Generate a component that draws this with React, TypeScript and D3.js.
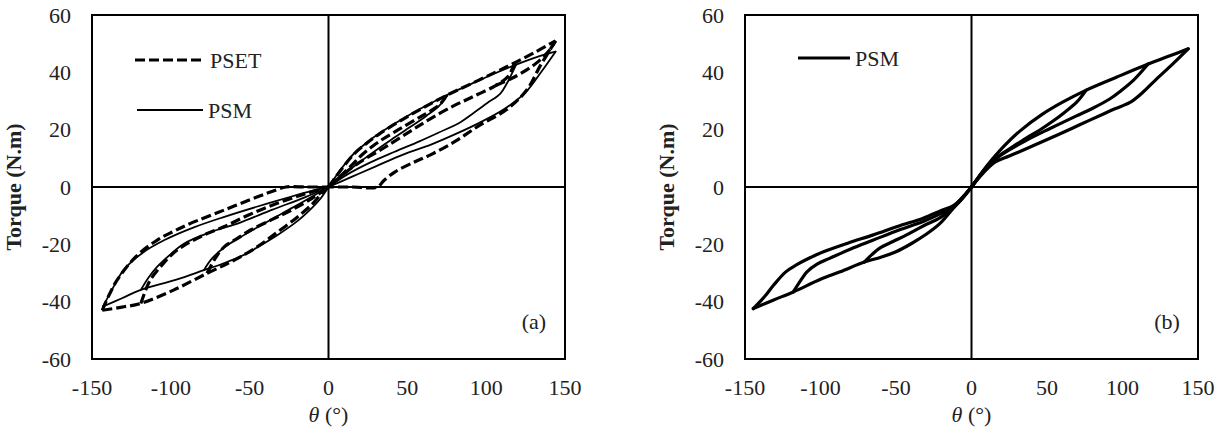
import * as d3 from 'd3';

type Pt = [number, number];

// x tick labels / y tick labels
const xTicks = [-150, -100, -50, 0, 50, 100, 150];
const yTicks = [-60, -40, -20, 0, 20, 40, 60];

// ---- panel (a) : PSET (dashed) ----
const psetPosEnvelope: Pt[] = [[0, 0], [8, 6], [16, 11.4], [25, 15.6], [33, 18.8], [47.7, 23.8], [60, 27.6], [75, 32], [90, 35.9], [105, 39.8], [118, 43.3], [132, 47.3], [144, 51]];
const psetPosReturnBig: Pt[] = [[144, 51], [139, 46.5], [134, 42], [126, 34], [113, 27], [96, 21.6], [80, 15.8], [65, 11.3], [54, 8.6], [42, 5.2], [35, 2.2], [31, 0], [15, 0], [0, 0]];
const psetPosReturnMid: Pt[] = [[118, 43.3], [114, 38.6], [106, 35.4], [92, 31.6], [79, 28.2], [64, 23.6], [52, 19.5], [35, 13.6], [18, 8], [8, 3.8], [0, 0]];
const psetPosReturnSmall: Pt[] = [[75, 32], [71, 29], [64, 26.3], [58, 24.4], [46, 20.5], [33, 16.2], [22, 11.6], [14, 7.2], [6, 3], [0, 0]];
const psetPosReload: Pt[] = [[106, 35.4], [115, 37.6], [122, 39.6], [132, 43.3], [140, 47.6], [144, 51]];
const psetNegEnvelope: Pt[] = [[0, 0], [-4, -2], [-10, -5.8], [-20, -10.6], [-33, -16], [-45, -20.8], [-60, -25.6], [-77, -30.1], [-98, -35.9], [-119, -40.6], [-131, -41.9], [-143.5, -43]];
const psetNegReturnBig: Pt[] = [[-143.5, -43], [-139, -37.5], [-134, -32.4], [-122, -24.2], [-108.6, -18.5], [-98, -15.4], [-87.5, -12.7], [-66, -8], [-45, -3.4], [-33, -1], [-27, 0], [-14, 0], [0, 0]];
const psetNegReturnMid: Pt[] = [[-119, -40.6], [-116, -36], [-113, -32.4], [-105, -26.8], [-96, -22], [-80, -17], [-66, -13.8], [-50, -9.6], [-32.5, -5.7], [-15, -2.4], [0, 0]];
const psetNegReturnSmall: Pt[] = [[-77, -30.1], [-72, -25], [-66, -20.8], [-58, -18], [-49.4, -15], [-36, -11.4], [-24, -8.2], [-10, -3.8], [0, 0]];

// ---- panel (a) : PSM (thin solid) ----
const psmAPosEnvelope: Pt[] = [[0, 0], [8, 6.3], [16, 11.6], [24.5, 15.6], [33, 19], [47.7, 24], [60, 27.8], [75.5, 32.2], [90, 35.8], [105, 39.5], [119, 42.7], [132, 45.3], [144, 47.2]];
const psmAPosReturnBig: Pt[] = [[144, 47.2], [135, 40.2], [125, 33], [111, 27], [95, 22.2], [81.5, 18.7], [65, 14.8], [47.7, 11.4], [30, 7.2], [15, 3.6], [0, 0]];
const psmAPosReturnMid: Pt[] = [[119, 42.7], [113, 36], [109, 32.6], [100.5, 29.2], [92, 25.8], [83.7, 22.6], [70, 19], [58, 16], [42, 12.3], [26.6, 8.6], [12, 4.4], [0, 0]];
const psmAPosReturnSmall: Pt[] = [[75.5, 32.2], [70, 28.2], [62, 24.8], [52, 21], [40, 16.6], [26, 11.2], [12, 5.4], [0, 0]];
const psmANegEnvelope: Pt[] = [[0, 0], [-5, -4], [-10, -7], [-20, -12], [-33, -17], [-45, -21], [-53, -23.5], [-66, -26.5], [-79, -29], [-97, -32.4], [-119, -35.9], [-131, -38.8], [-143, -41.7]];
const psmANegReturnBig: Pt[] = [[-143, -41.7], [-136, -34.5], [-130, -29], [-118, -23], [-104, -18.5], [-85, -14], [-66, -10.4], [-45, -6.8], [-24, -3.4], [-10, -1.3], [0, 0]];
const psmANegReturnMid: Pt[] = [[-119, -35.9], [-114, -31.5], [-108.6, -27.8], [-100, -23.4], [-91.7, -19.8], [-75, -15.8], [-56, -12.4], [-36, -8], [-15, -3.6], [0, 0]];
const psmANegReturnSmall: Pt[] = [[-79, -29], [-74, -25], [-66, -21], [-58, -18.2], [-50, -15.6], [-30, -9.4], [-15, -4.8], [0, 0]];

// ---- panel (b) : PSM ----
const psmBPosEnvelope: Pt[] = [[0, 0], [7, 5.2], [14, 9.8], [22, 14.5], [32, 19.5], [47, 25.4], [60, 29.5], [76, 33.8], [96, 38.3], [117, 42.9], [130, 45.5], [143.5, 48.2]];
const psmBPosReturnBig: Pt[] = [[143.5, 48.2], [133, 42.8], [122, 37.4], [113, 32.8], [105, 29.5], [95, 27.3], [87, 25.4], [72, 21.8], [58, 18.4], [40, 14.2], [25, 10.8], [16, 8.8], [8, 5], [0, 0]];
const psmBPosReturnMid: Pt[] = [[117, 42.9], [107, 37.1], [99, 33.6], [91.5, 30.7], [80, 27.4], [69.5, 24.8], [52, 20.4], [36, 16.2], [22, 12], [14, 9], [7, 4.9], [0, 0]];
const psmBPosReturnSmall: Pt[] = [[76, 33.8], [69.5, 29.5], [62, 26.2], [54, 23], [45, 19.8], [36, 17], [28, 14.3], [21, 11.9], [14, 9.2], [7, 5], [0, 0]];
const psmBNegEnvelope: Pt[] = [[0, 0], [-6, -4], [-12, -7.4], [-21, -12.8], [-30, -16.5], [-40, -19.8], [-50, -22.6], [-60, -24.5], [-71, -26.2], [-87, -29.6], [-100, -32.2], [-118, -36.6], [-131, -39.4], [-144.5, -42.4]];
const psmBNegReturnBig: Pt[] = [[-144.5, -42.4], [-137, -38.2], [-131, -34.2], [-123, -29.6], [-116, -27.2], [-107, -24.7], [-98, -22.6], [-82, -19.6], [-65, -16.7], [-48, -13.6], [-32, -10.9], [-20, -8.2], [-12, -6.5], [-6, -3.6], [0, 0]];
const psmBNegReturnMid: Pt[] = [[-118, -36.6], [-113, -32.5], [-109, -29.6], [-102, -26.8], [-94, -24.9], [-80, -21.6], [-65, -18.5], [-48, -15], [-32, -12], [-20, -9.2], [-12, -7], [-6, -3.8], [0, 0]];
const psmBNegReturnSmall: Pt[] = [[-71, -26.2], [-66, -23.6], [-61, -21.4], [-52, -19], [-43, -16.7], [-32, -13.6], [-21, -10.8], [-14, -8], [-7, -4.4], [0, 0]];

const psetCurves = [psetPosEnvelope, psetPosReturnBig, psetPosReturnMid, psetPosReturnSmall, psetPosReload, psetNegEnvelope, psetNegReturnBig, psetNegReturnMid, psetNegReturnSmall];
const psmACurves = [psmAPosEnvelope, psmAPosReturnBig, psmAPosReturnMid, psmAPosReturnSmall, psmANegEnvelope, psmANegReturnBig, psmANegReturnMid, psmANegReturnSmall];
const psmBCurves = [psmBPosEnvelope, psmBPosReturnBig, psmBPosReturnMid, psmBPosReturnSmall, psmBNegEnvelope, psmBNegReturnBig, psmBNegReturnMid, psmBNegReturnSmall];

const FONT = "'Liberation Serif', 'Times New Roman', 'DejaVu Serif', serif";

type Series = { curves: Pt[][]; width: number; dash?: string };

function Panel({ x0, x1, top, bottom, series, tag, legend }: {
  x0: number; x1: number; top: number; bottom: number; series: Series[]; tag: string;
  legend: { x1: number; x2: number; y: number; label: string; width: number; dash?: string }[];
}) {
  const x = d3.scaleLinear().domain([-150, 150]).range([x0, x1]);
  const y = d3.scaleLinear().domain([-60, 60]).range([bottom, top]);
  const line = d3.line<Pt>().x(d => x(d[0])).y(d => y(d[1])).curve(d3.curveCatmullRom.alpha(0.5));
  const midY = (top + bottom) / 2;
  const txt = { fontSize: 22, fill: '#222' };

  return (
    <g>
      {series.map((s, i) => (
        <g key={i}>
          {s.curves.map((c, j) => (
            <path key={j} d={line(c) || ''} fill="none" stroke="#000" strokeWidth={s.width}
              strokeDasharray={s.dash} strokeLinejoin="round" strokeLinecap={s.dash ? 'butt' : 'round'} />
          ))}
        </g>
      ))}
      <rect x={x0} y={top} width={x1 - x0} height={bottom - top} fill="none" stroke="#000" strokeWidth={2} />
      <line x1={x0} x2={x1} y1={y(0)} y2={y(0)} stroke="#000" strokeWidth={2} />
      <line x1={x(0)} x2={x(0)} y1={top} y2={bottom} stroke="#000" strokeWidth={2} />
      {yTicks.map(t => (
        <text key={t} x={x0 - 21} y={y(t)} dy="0.35em" textAnchor="end" {...txt}>{t}</text>
      ))}
      {xTicks.map(t => (
        <text key={t} x={x(t)} y={bottom + 36} textAnchor="middle" {...txt}>{t}</text>
      ))}
      <text x={x(0)} y={bottom + 63} textAnchor="middle" {...txt}>
        <tspan fontStyle="italic">θ</tspan><tspan> (°)</tspan>
      </text>
      <text transform={`translate(${x0 - 71},${midY}) rotate(-90)`} textAnchor="middle" fontWeight="bold" {...txt}>Torque (N.m)</text>
      {legend.map(l => (
        <g key={l.label}>
          <line x1={l.x1} x2={l.x2} y1={l.y} y2={l.y} stroke="#000" strokeWidth={l.width} strokeDasharray={l.dash} />
          <text x={l.x2 + 5} y={l.y} dy="0.35em" {...txt}>{l.label}</text>
        </g>
      ))}
      <text x={x(138)} y={y(-47)} dy="0.35em" textAnchor="end" {...txt}>{tag}</text>
    </g>
  );
}

export default function App() {
  return (
    <svg width={1221} height={436} style={{ position: 'absolute', left: 0, top: 0, background: '#fff', fontFamily: FONT }}>
      <Panel x0={92} x1={565} top={15} bottom={359} tag="(a)"
        series={[
          { curves: psmACurves, width: 1.8 },
          { curves: psetCurves, width: 3.2, dash: '10,4' },
        ]}
        legend={[
          { x1: 135, x2: 205, y: 60, label: 'PSET', width: 3.2, dash: '10,4' },
          { x1: 137, x2: 203, y: 110, label: 'PSM', width: 1.8 },
        ]} />
      <Panel x0={745} x1={1198} top={15} bottom={359} tag="(b)"
        series={[{ curves: psmBCurves, width: 3.2 }]}
        legend={[{ x1: 798, x2: 850, y: 58, label: 'PSM', width: 3.2 }]} />
    </svg>
  );
}
